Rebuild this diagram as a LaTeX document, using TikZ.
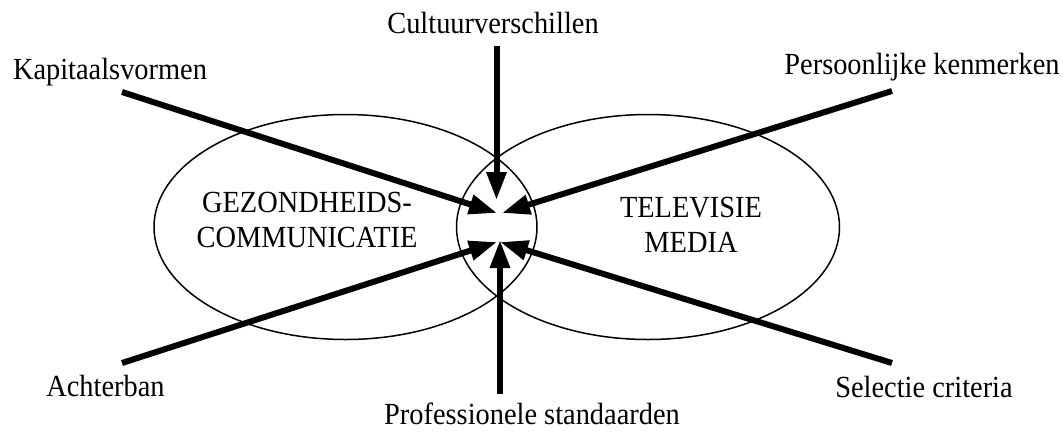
\documentclass[tikz,border=0pt]{standalone}
\usepackage{fontspec}
\setmainfont{Liberation Serif}
\newfontfamily\tallserif[FakeStretch=0.925]{Liberation Serif}
\usetikzlibrary{arrows.meta,shapes.geometric}
\begin{document}
\begin{tikzpicture}[x=1pt,y=-1pt,
  lbl/.style={font=\tallserif\fontsize{30.7}{36}\selectfont, inner sep=0pt, anchor=base},
  ring/.style={draw, line width=1.5pt, ellipse, minimum width=383pt, minimum height=225pt, inner sep=0pt},
  force/.style={line width=6pt, -{Triangle[length=28pt,width=19pt]}}]
\useasboundingbox (0,0) rectangle (1063,432);
% ellipses
\node[ring] (gz) at (345.5,227) {};
\node[ring] (tv) at (648,227) {};
% ellipse texts
\node[lbl] (g1) at (307,212) {GEZONDHEIDS-};
\node[lbl] (g2) at (307,247) {COMMUNICATIE};
\node[lbl] (t1) at (691,217) {TELEVISIE};
\node[lbl] (t2) at (691,252) {MEDIA};
% outer labels
\node[lbl] (cu) at (493,33) {Cultuurverschillen};
\node[lbl] (ka) at (110,79) {Kapitaalsvormen};
\node[lbl] (pe) at (922,74) {Persoonlijke kenmerken};
\node[lbl] (ac) at (105.5,396) {Achterban};
\node[lbl] (se) at (924,397) {Selectie criteria};
\node[lbl] (pr) at (532,424) {Professionele standaarden};
% arrow end points
\coordinate (cuS) at (496.5,46);  \coordinate (cuT) at (496.5,200);
\coordinate (kaS) at (122,92);    \coordinate (kaT) at (497,213);
\coordinate (peS) at (892,91);    \coordinate (peT) at (502,213);
\coordinate (acS) at (122,363);   \coordinate (acT) at (497,242);
\coordinate (seS) at (892,363);   \coordinate (seT) at (500,242);
\coordinate (prS) at (500,394);   \coordinate (prT) at (500,240);
% arrows
\draw[force] (cuS) -- (cuT);
\draw[force] (kaS) -- (kaT);
\draw[force] (peS) -- (peT);
\draw[force] (acS) -- (acT);
\draw[force] (seS) -- (seT);
\draw[force] (prS) -- (prT);
\end{tikzpicture}
\end{document}
